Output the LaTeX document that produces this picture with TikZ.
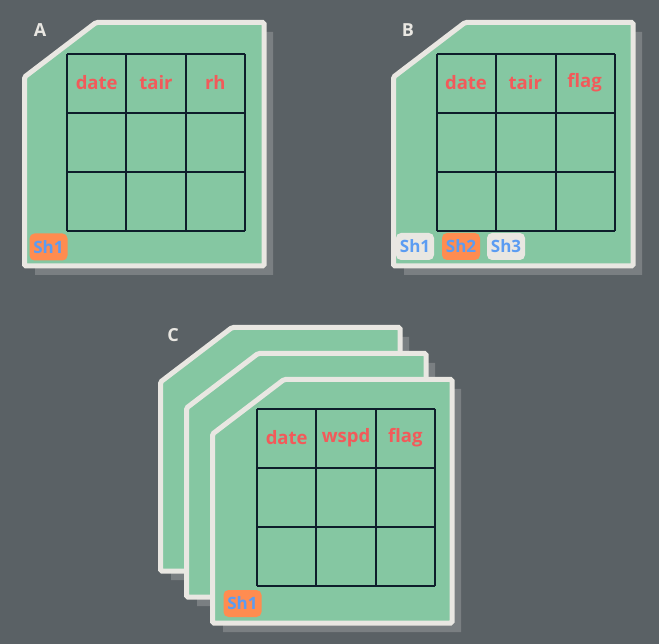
\documentclass[tikz,border=0pt]{standalone}
\usepackage{fontspec}
\setmainfont{Open Sans}
\usetikzlibrary{positioning}
\definecolor{slate}{HTML}{5A6165}
\definecolor{leaf}{HTML}{85C7A2}
\definecolor{paper}{HTML}{E9E7E2}
\definecolor{dropgray}{HTML}{7A7F82}
\definecolor{ink}{HTML}{0E1E2B}
\definecolor{tomato}{HTML}{F25A5A}
\definecolor{tangerine}{HTML}{FF8C50}
\definecolor{sky}{HTML}{5B9CF2}
\tikzstyle{sheetbody} = [draw=paper, line width=5pt, fill=leaf, rounded corners=1.5pt]
\tikzstyle{dropshadow} = [fill=dropgray]
\tikzstyle{gridline} = [draw=ink, line width=1.8pt]
\tikzstyle{colname} = [text=tomato, font=\bfseries\fontsize{18.5}{18.5}\selectfont]
\tikzstyle{panel} = [text=paper, font=\bfseries\fontsize{18}{18}\selectfont]
\tikzstyle{tab} = [rounded corners=5pt, minimum height=27pt, minimum width=38pt, inner xsep=3pt, text=sky, font=\bfseries\fontsize{17}{17}\selectfont]
\tikzstyle{tabon} = [tab, fill=tangerine]
\tikzstyle{taboff} = [tab, fill=paper]
\tikzset{
  pics/sheet/.style={code={
    \fill[dropshadow] (13,62) -- (82,12) -- (251,12) -- (251,255) -- (13,255) -- cycle;
    \draw[sheetbody] (2.5,57) -- (74,2.5) -- (242,2.5) -- (242,246) -- (2.5,246) -- cycle;
  }},
  pics/table/.style={code={
    \foreach \i in {0,1,2,3} {
      \draw[gridline] (\i*59.33,0) -- (\i*59.33,177);
      \draw[gridline] (0,\i*59) -- (178,\i*59);
    }
  }}
}

\begin{document}
\begin{tikzpicture}[x=1pt, y=-1pt]
    \useasboundingbox[fill=slate] (0,0) rectangle (659,644);

    % Sheet A
    \pic at (22,20) {sheet};
    \pic at (67,54) {table};
    \node (labA) [panel] at (40,30) {A};
    \node (dateA) [colname] at (96.7,82.5) {date};
    \node (tairA) [colname] at (156,82.5) {tair};
    \node (rhA) [colname] at (215.3,82.5) {rh};
    \node (shA) [tabon] at (48.5,247) {Sh1};

    % Sheet B
    \pic at (391,20) {sheet};
    \pic at (437,54) {table};
    \node (labB) [panel] at (408,30) {B};
    \node (dateB) [colname] at (466,82.5) {date};
    \node (tairB) [colname] at (525.3,82.5) {tair};
    \node (flagB) [colname] at (584.6,82.5) {flag};
    \node (shB1) [taboff] at (415,246.5) {Sh1};
    \node (shB2) [tabon] at (461,246.5) {Sh2};
    \node (shB3) [taboff] at (506,246.5) {Sh3};

    % Sheet C (stacked)
    \pic at (158,325) {sheet};
    \pic at (184,351) {sheet};
    \pic at (210,377) {sheet};
    \pic at (257,409) {table};
    \node (labC) [panel] at (173,335) {C};
    \node (dateC) [colname] at (286.7,437.5) {date};
    \node (wspdC) [colname] at (346,437.5) {wspd};
    \node (flagC) [colname] at (405.3,437.5) {flag};
    \node (shC) [tabon] at (242.5,603.5) {Sh1};

\end{tikzpicture}
\end{document}
